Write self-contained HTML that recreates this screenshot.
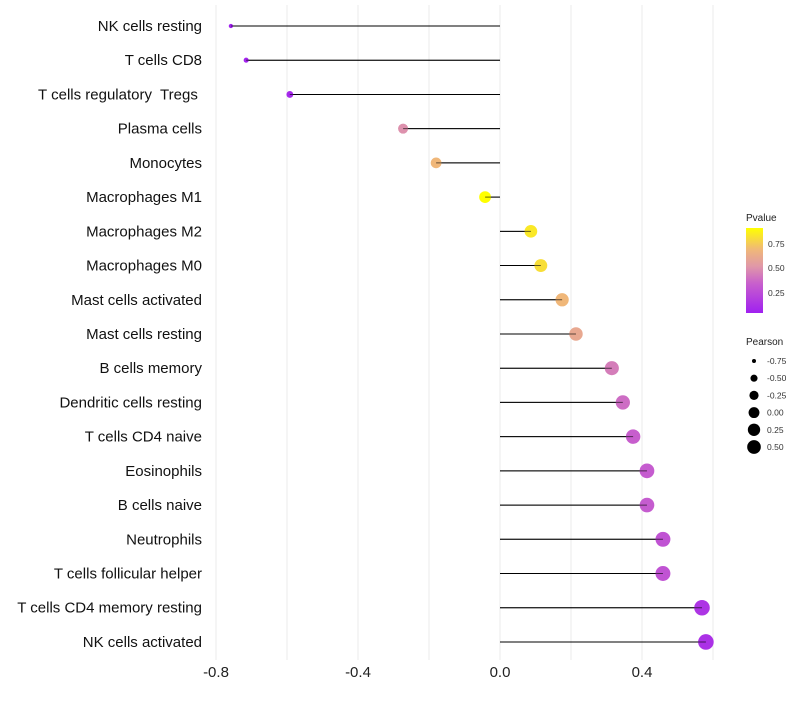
<!DOCTYPE html>
<html><head><meta charset="utf-8"><style>
body{margin:0;background:#fff;font-family:"Liberation Sans",sans-serif}
text{white-space:pre}
</style></head><body>
<svg id="chart" width="800" height="700" xmlns="http://www.w3.org/2000/svg" font-family="Liberation Sans, sans-serif">
<defs><linearGradient id="pg" x1="0" y1="1" x2="0" y2="0">
<stop offset="0" stop-color="#a020f0"/><stop offset="0.35" stop-color="#c860cc"/><stop offset="0.55" stop-color="#e098a8"/><stop offset="0.75" stop-color="#f0b878"/><stop offset="1" stop-color="#ffff00"/></linearGradient></defs>
<g id="grid"></g>
<g id="marks"></g>
<g id="ylabels"></g>
<g id="xlabels"></g>
<g>
<text x="746" y="221" font-size="10" fill="#222">Pvalue</text>
<rect x="746" y="228" width="17" height="85" fill="url(#pg)"/>
<text x="768" y="247" font-size="8.5" fill="#333">0.75</text>
<text x="768" y="271" font-size="8.5" fill="#333">0.50</text>
<text x="768" y="296" font-size="8.5" fill="#333">0.25</text>
</g>
<g id="sizeleg">
<text x="746" y="345" font-size="10" fill="#222">Pearson</text>
</g>
</svg>
<script>
const cells=["NK cells resting","T cells CD8","T cells regulatory  Tregs ","Plasma cells","Monocytes","Macrophages M1","Macrophages M2","Macrophages M0","Mast cells activated","Mast cells resting","B cells memory","Dendritic cells resting","T cells CD4 naive","Eosinophils","B cells naive","Neutrophils","T cells follicular helper","T cells CD4 memory resting","NK cells activated"];
const pearson=[-0.758,-0.715,-0.592,-0.273,-0.18,-0.042,0.087,0.115,0.175,0.214,0.315,0.346,0.375,0.414,0.414,0.459,0.459,0.569,0.58];
const pvalue=[0.05,0.06,0.08,0.49,0.68,0.9,0.83,0.8,0.68,0.6,0.43,0.38,0.33,0.32,0.32,0.28,0.28,0.14,0.12];
const xTicks=[-0.8,-0.4,0.0,0.4];
const xGrid=[-0.8,-0.6,-0.4,-0.2,0,0.2,0.4,0.6];
const sizeLegend=[-0.75,-0.5,-0.25,0,0.25,0.5];
const NS="http://www.w3.org/2000/svg";
const X=v=>500+v*355;
const Y=i=>26+i*34.22;
const R=v=>Math.sqrt(Math.max(1,5+42*(v+0.75)));
const stops=[[0,[160,32,240]],[0.35,[200,96,204]],[0.55,[224,152,168]],[0.75,[240,184,120]],[1,[255,255,0]]];
function col(p){const t=Math.min(1,Math.max(0,(p-0.04)/(0.9-0.04)));
for(let k=1;k<stops.length;k++){if(t<=stops[k][0]){const a=stops[k-1],b=stops[k];const u=(t-a[0])/(b[0]-a[0]);
return `rgb(${a[1].map((c,i)=>Math.round(c+(b[1][i]-c)*u))})`;}}return 'rgb(255,255,0)';}
function mk(tag,a,parent){const e=document.createElementNS(NS,tag);for(const k in a)e.setAttribute(k,a[k]);parent.appendChild(e);return e;}
const grid=document.getElementById('grid'),marks=document.getElementById('marks'),yl=document.getElementById('ylabels'),xl=document.getElementById('xlabels'),sl=document.getElementById('sizeleg');
xGrid.forEach(v=>{const l=mk('line',{x1:X(v),x2:X(v),y1:5,y2:660,stroke:'#ebebeb','stroke-width':1},grid);

});
xTicks.forEach(v=>{const t=mk('text',{x:X(v),y:677,'font-size':15,'text-anchor':'middle',fill:'#222'},xl);t.textContent=v.toFixed(1);

});
cells.forEach((c,i)=>{const t=mk('text',{x:202,y:Y(i)+5,'font-size':15,'text-anchor':'end',fill:'#111'},yl);t.textContent=c;


const s=mk('line',{x1:X(0),x2:X(pearson[i]),y1:Y(i),y2:Y(i),stroke:'#000','stroke-width':1},marks);


const d=mk('circle',{cx:X(pearson[i]),cy:Y(i),r:R(pearson[i]),fill:col(pvalue[i])},marks);


const s2=mk('line',{x1:X(0),x2:X(pearson[i]),y1:Y(i),y2:Y(i),stroke:'#000','stroke-width':1,'stroke-opacity':0.6},marks);

});
sizeLegend.forEach((v,i)=>{const y=361+i*17.2;
const d=mk('circle',{cx:754,cy:y,r:R(v)*0.9,fill:'#000'},sl);


const t=mk('text',{x:767,y:y+3,'font-size':8.5,fill:'#333'},sl);t.textContent=v.toFixed(2);

});
</script>
</body></html>
